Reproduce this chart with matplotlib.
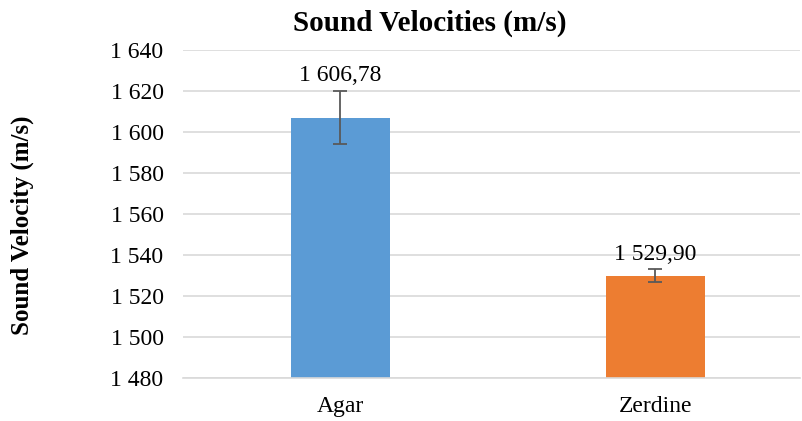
import numpy as np
import matplotlib
matplotlib.use("Agg")
import matplotlib.pyplot as plt
from matplotlib.ticker import FuncFormatter

plt.rcParams['font.family'] = ['Liberation Serif', 'DejaVu Serif']

# data
materials = ['Agar', 'Zerdine']
velocity = [1606.78, 1529.90]
velocity_err = [13.0, 3.0]
bar_colors = ['#5B9BD5', '#ED7D31']
y_ticks = np.arange(1480, 1641, 20)


def fmt_num(v, decimals=0):
    s = f"{v:,.{decimals}f}"
    return s.replace(',', ' ').replace('.', ',')


fig = plt.figure(figsize=(8.02, 4.21), dpi=100)
ax = fig.add_axes([183 / 802, 1 - 378 / 421, (800 - 183) / 802, (378 - 49.5) / 421])

x = np.arange(len(materials))
ax.bar(x, velocity, width=0.314, color=bar_colors, zorder=2)
ax.errorbar(x, velocity, yerr=velocity_err, fmt='none', ecolor='#595959',
            elinewidth=1.3, capsize=5, capthick=1.3, zorder=3)

for xi, v, e in zip(x, velocity, velocity_err):
    ax.annotate(fmt_num(v, 2), (xi, v + e), xytext=(0, 3.5), textcoords='offset points',
                ha='center', va='bottom', fontsize=17)

ax.set_ylim(1480, 1640)
ax.set_yticks(y_ticks)
ax.yaxis.set_major_formatter(FuncFormatter(lambda v, p: fmt_num(v)))
ax.set_xlim(-0.5, 1.46)
ax.set_xticks(x)
ax.set_xticklabels(materials)
ax.tick_params(axis='both', length=0, labelsize=17)
ax.tick_params(axis='x', pad=13)
ax.tick_params(axis='y', pad=14)
ax.grid(axis='y', color='#D9D9D9', linewidth=1.2, zorder=0)
for side in ['top', 'right', 'left']:
    ax.spines[side].set_visible(False)
ax.spines['bottom'].set_color('#D9D9D9')
ax.spines['bottom'].set_linewidth(1.2)

fig.text(430 / 802, 1 - 23 / 421, 'Sound Velocities (m/s)', ha='center', va='center',
         fontsize=21, fontweight='bold')
fig.text(22 / 802, 1 - 225 / 421, 'Sound Velocity (m/s)', ha='center', va='center',
         rotation=90, fontsize=18, fontweight='bold')

fig.savefig('out.png', dpi=100)
